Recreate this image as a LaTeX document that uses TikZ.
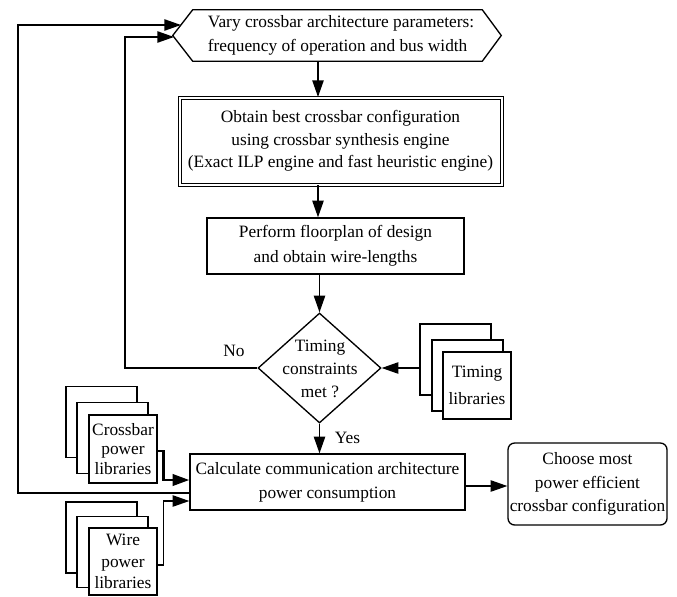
\documentclass[tikz,border=0pt]{standalone}
\usepackage{fontspec}
\setmainfont{Liberation Serif}
\usetikzlibrary{shapes.geometric,arrows.meta,calc}
\begin{document}
\begin{tikzpicture}[x=0.75pt,y=-0.75pt,
  ln/.style={line width=1pt},
  arr/.style={ln,-{Triangle[length=12.5pt,width=8.5pt]}},
  txt/.style={inner sep=0pt,align=center,font=\fontsize{13}{17.5}\selectfont},
  box/.style={txt,draw,ln},
  dblbox/.style={txt,draw,line width=0.75pt,double,double distance=1.5pt,
    minimum width=322*0.75pt,minimum height=87*0.75pt,font=\fontsize{13}{17}\selectfont},
  pageback/.style={draw,ln,fill=white,inner sep=0pt,minimum width=71*0.75pt,minimum height=71*0.75pt},
  pagefront/.style={txt,draw,ln,fill=white,minimum width=68*0.75pt,minimum height=67*0.75pt},
  decision/.style={draw,ln,diamond,inner sep=0pt,minimum width=123*0.75pt,minimum height=110*0.75pt}
]
\useasboundingbox (0,0) rectangle (677,596);

% top hexagon
\node[minimum width=328*0.75pt,minimum height=51*0.75pt,inner sep=0pt] (hex) at (337,35.5) {};
\draw[ln] (hex.west) -- ($(hex.north west)+(20,0)$) -- ($(hex.north east)+(-19,0)$)
  -- (hex.east) -- ($(hex.south east)+(-19,0)$) -- ($(hex.south west)+(20,0)$) -- cycle;
\node[txt,align=left,font=\fontsize{13}{18}\selectfont] (hext) at (341,35.5)
  {Vary crossbar architecture parameters:\\frequency of operation and bus width};

% boxes
\node[dblbox] (dbl) at (340.5,141) {Obtain best crossbar configuration\\using crossbar synthesis engine\\(Exact ILP engine and fast heuristic engine)};
\node[box,minimum width=257*0.75pt,minimum height=56*0.75pt,font=\fontsize{13}{18.5}\selectfont] (fp) at (335.5,246)
  {Perform floorplan of design\\and obtain wire-lengths};
\node[decision] (dia) at (319.5,368) {};
\node[txt,font=\fontsize{13}{17}\selectfont] (diat) at (320,369) {Timing\\constraints\\met ?};
\node[box,minimum width=275*0.75pt,minimum height=56*0.75pt,font=\fontsize{13}{18}\selectfont] (calc) at (327.5,482)
  {Calculate communication architecture\\power consumption};
\node[box,rounded corners=5pt,minimum width=159*0.75pt,minimum height=82*0.75pt] (choose) at (587.5,484)
  {Choose most\\power efficient\\crossbar configuration};

% timing libraries
\node[pageback] (tb) at (455.5,359.5) {};
\node[pageback] (tm) at (467.5,375.5) {};
\node[pagefront,font=\fontsize{13}{20}\selectfont] (tf) at (477,385.5) {Timing\\libraries};

% crossbar power libraries
\node[pageback] (cb) at (101.5,422) {};
\node[pageback] (cm) at (112.5,438) {};
\node[pagefront,minimum height=68*0.75pt,font=\fontsize{13}{14.6}\selectfont] (cf) at (123,449) {Crossbar\\power\\libraries};

% wire power libraries
\node[pageback] (wb) at (101.5,537.5) {};
\node[pageback] (wm) at (112.5,552) {};
\node[pagefront,font=\fontsize{13}{16}\selectfont] (wf) at (123,561.5) {Wire\\power\\libraries};

% labels
\node[txt] (no) at (234,351) {No};
\node[txt] (yes) at (347.5,438) {Yes};

% coordinates
\coordinate (ax) at (318,0);
\coordinate (inA) at (181,25);
\coordinate (inB) at (174,37);
\coordinate (oc) at (18,25);
\coordinate (nc) at (125,37);
\coordinate (ce) at ($(calc.east)+(0,4)$);

% connectors
\draw[arr] (hex.south -| ax) -- (dbl.north -| ax);
\draw[arr] (dbl.south -| ax) -- (fp.north -| ax);
\draw[arr] (fp.south -| dia.north) -- (dia.north);
\draw[arr] (dia.south) -- (calc.north -| dia.south);
\draw[arr] (tb.west |- dia.east) -- (dia.east);
\draw[arr] (dia.west) -| (nc) -- (inB);
\draw[arr] ($(calc.west)+(0,11)$) -| (oc) -- (inA);
\draw[arr,line width=2pt] ($(cf.east)+(0,2)$) -- ++(6,0) |- ($(calc.west)+(0,-2)$);
\draw[arr] ($(wf.east)+(0,3.5)$) -- ++(6,0) |- ($(calc.west)+(0,19)$);
\draw[arr] (ce) -- (ce -| choose.west);
\end{tikzpicture}
\end{document}
